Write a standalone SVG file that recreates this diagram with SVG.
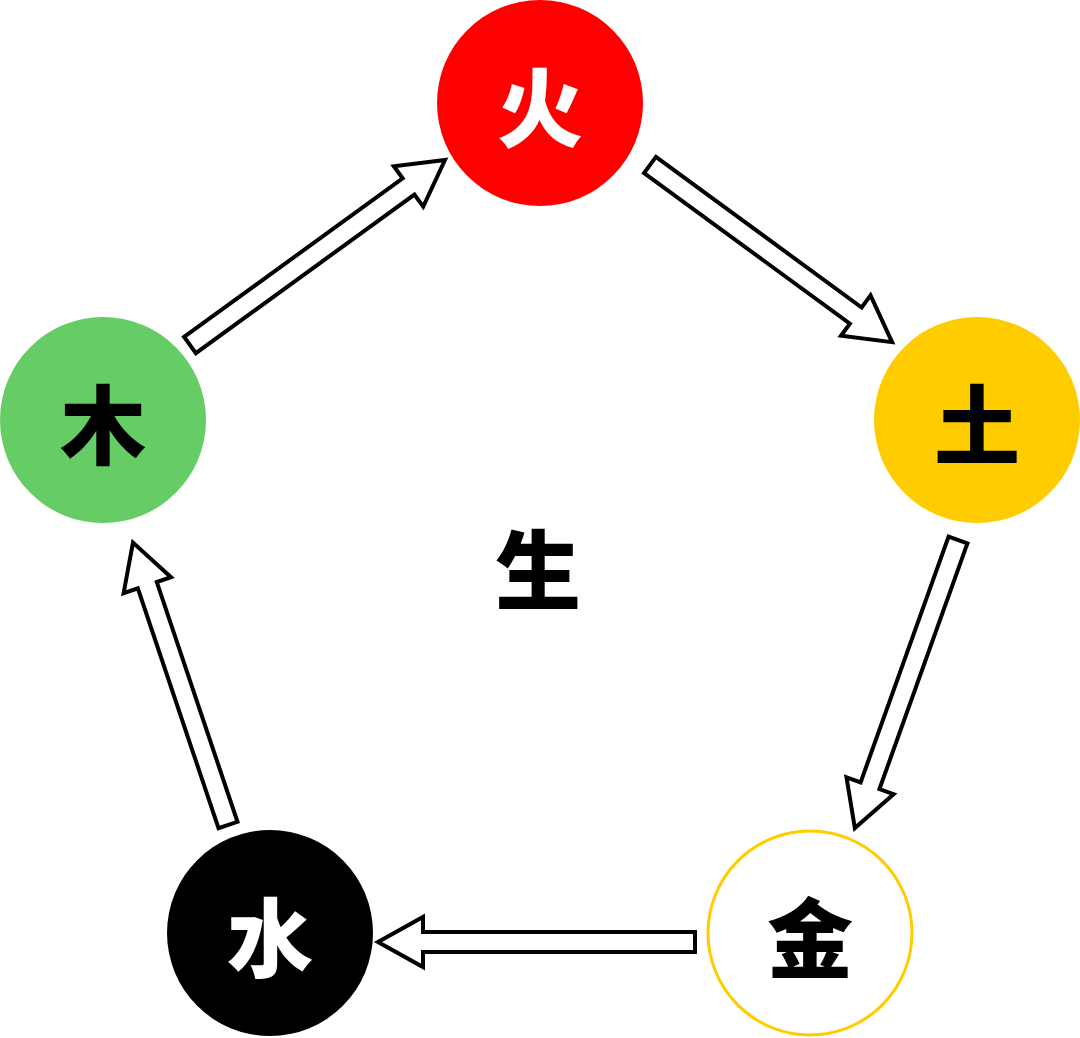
<svg xmlns="http://www.w3.org/2000/svg" width="1080" height="1038" viewBox="0 0 1080 1038">
<style>
.t{font-family:"Noto Sans CJK SC","Noto Sans CJK JP",sans-serif;font-weight:900;font-size:86px;text-anchor:middle;dominant-baseline:central}
.a{fill:#fff;stroke:#000;stroke-width:4;stroke-linejoin:miter}
</style>
<rect width="1080" height="1038" fill="#fff"/>
<g id="connectors">
<polygon class="a" transform="translate(190,345) rotate(-35.96)" points="0,-10 270,-10 270,-25 315,0 270,25 270,10 0,10"/>
<polygon class="a" transform="translate(650,165) rotate(36.2)" points="0,-10 255,-10 255,-25 300,0 255,25 255,10 0,10"/>
<polygon class="a" transform="translate(958,540) rotate(109.7)" points="0,-10 261,-10 261,-25 306,0 261,25 261,10 0,10"/>
<polygon class="a" transform="translate(695,942) rotate(180)" points="0,-10 272,-10 272,-25 317,0 272,25 272,10 0,10"/>
<polygon class="a" transform="translate(228,825) rotate(-108.6)" points="0,-10 253,-10 253,-25 298,0 253,25 253,10 0,10"/>
</g>
<g id="fire"><circle cx="540" cy="103" r="103" fill="#ff0000"/><text class="t" x="540" y="103" fill="#fff">火</text></g>
<g id="earth"><circle cx="977" cy="420" r="103" fill="#ffcc00"/><text class="t" x="977" y="420" fill="#000">土</text></g>
<g id="metal"><circle cx="810" cy="933" r="102" fill="#fff" stroke="#ffcc00" stroke-width="3"/><text class="t" x="810" y="933" fill="#000">金</text></g>
<g id="water"><circle cx="270" cy="933" r="103" fill="#000"/><text class="t" x="270" y="933" fill="#fff">水</text></g>
<g id="wood"><circle cx="103" cy="420" r="103" fill="#66cc66"/><text class="t" x="103" y="420" fill="#000">木</text></g>
<g id="center"><text class="t" x="538" y="565" fill="#000">生</text></g>
</svg>
